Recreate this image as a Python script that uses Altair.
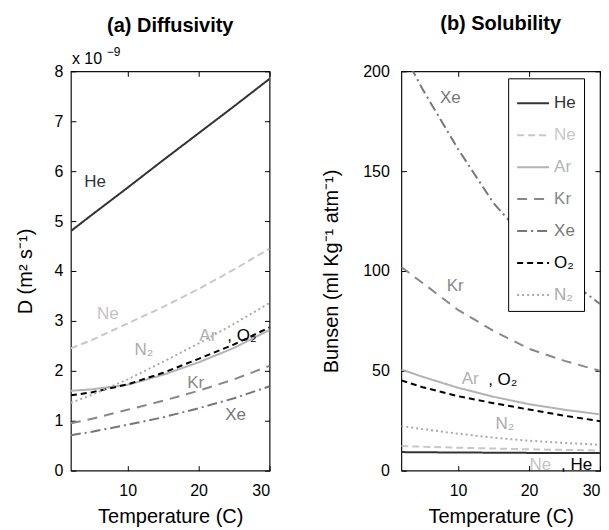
import altair as alt
import pandas as pd

# ---------------- data ----------------
temps = [2, 5, 10, 15, 20, 25, 30]
gases = ["He", "Ne", "Ar", "Kr", "Xe", "O₂", "N₂"]

# Diffusivity (x 1e-9 m^2 s^-1)
diff_he = [4.80, 5.13, 5.67, 6.22, 6.76, 7.30, 7.85]
diff_ne = [2.45, 2.62, 2.95, 3.28, 3.64, 4.03, 4.45]
diff_ar = [1.60, 1.63, 1.72, 1.92, 2.17, 2.46, 2.82]
diff_kr = [0.95, 1.04, 1.22, 1.40, 1.60, 1.83, 2.10]
diff_xe = [0.71, 0.78, 0.92, 1.07, 1.25, 1.45, 1.69]
diff_o2 = [1.51, 1.57, 1.73, 1.96, 2.24, 2.53, 2.87]
diff_n2 = [1.36, 1.52, 1.83, 2.18, 2.55, 2.94, 3.36]

# Bunsen solubility (ml kg^-1 atm^-1)
sol_he = [9.3, 9.2, 9.1, 9.0, 8.9, 8.85, 8.8]
sol_ne = [12.3, 12.0, 11.5, 11.1, 10.7, 10.4, 10.1]
sol_ar = [50.7, 47.0, 41.5, 37.0, 33.3, 30.5, 28.2]
sol_kr = [102, 94, 80.5, 70, 61, 55, 50]
sol_xe = [211, 191, 161, 134, 114, 97, 83.5]
sol_o2 = [45.2, 41.8, 37.3, 33.8, 30.6, 27.5, 24.8]
sol_n2 = [22.3, 20.8, 18.5, 16.5, 15.0, 13.9, 13.0]

# in-plot labels
left_lab_text = ["He", "Ne", "N₂", "Ar", ", O₂", "Kr", "Xe"]
left_lab_x = [5.4, 7.2, 12.3, 21.3, 26.1, 19.6, 25.2]
left_lab_y = [5.79, 3.14, 2.41, 2.69, 2.69, 1.76, 1.11]
left_lab_col = ["#333333", "#c4c4c4", "#ababab", "#b0b0b0", "#000000", "#8a8a8a", "#777777"]

right_lab_text = ["Xe", "Kr", "Ar", ", O₂", "N₂", "Ne", ", He"]
right_lab_x = [8.9, 9.6, 11.7, 16.3, 16.6, 21.6, 26.7]
right_lab_y = [186.5, 92.7, 45.7, 45.2, 23.5, 2.7, 2.7]
right_lab_col = ["#777777", "#8a8a8a", "#b0b0b0", "#000000", "#ababab", "#c4c4c4", "#000000"]

line_colors = ["#333333", "#c8c8c8", "#b3b3b3", "#888888", "#777777", "#000000", "#aaaaaa"]
line_dashes = [[1, 0], [7, 4], [1, 0], [10, 7], [10, 4, 2, 4], [6, 4], [2, 3]]

# ---------------- tables ----------------
def long_table(series):
    rows = []
    for g, vals in zip(gases, series):
        for t, v in zip(temps, vals):
            rows.append({"T": t, "v": v, "gas": g})
    return pd.DataFrame(rows)

df_d = long_table([diff_he, diff_ne, diff_ar, diff_kr, diff_xe, diff_o2, diff_n2])
df_s = long_table([sol_he, sol_ne, sol_ar, sol_kr, sol_xe, sol_o2, sol_n2])
lab_l = pd.DataFrame({"t": left_lab_text, "x": left_lab_x, "y": left_lab_y, "c": left_lab_col})
lab_r = pd.DataFrame({"t": right_lab_text, "x": right_lab_x, "y": right_lab_y, "c": right_lab_col})
mult_base = pd.DataFrame({"t": ["x 10"], "x": [2], "y": [8]})
mult_exp = pd.DataFrame({"t": ["−9"], "x": [2], "y": [8]})

W, H = 199, 400
FONT = "Liberation Sans"

color_scale = alt.Scale(domain=gases, range=line_colors)
dash_scale = alt.Scale(domain=gases, range=line_dashes)

label_expr = " : ".join(
    f"datum.label == '{g}' ? '{c}'" for g, c in zip(gases, line_colors)
) + " : 'black'"


def x_axis():
    return alt.Axis(values=[10, 20, 30], title="Temperature (C)", grid=True,
                    gridDash=[5, H - 10], gridColor="black", gridOpacity=1,
                    ticks=False, tickSize=0, domain=False, labelFontSize=16,
                    titleFontSize=20, titleFontWeight="normal", labelPadding=12,
                    titlePadding=8, labelColor="black", titleColor="black",
                    labelFont=FONT, titleFont=FONT)


def y_axis(vals, title, pad, tpad):
    return alt.Axis(values=vals, title=title, grid=True, gridDash=[5, W - 10],
                    gridColor="black", gridOpacity=1, ticks=False, tickSize=0,
                    domain=False, labelFontSize=16, titleFontSize=20,
                    titleFontWeight="normal", labelPadding=pad, titlePadding=tpad,
                    labelColor="black", titleColor="black", labelFont=FONT,
                    titleFont=FONT)


xs = alt.Scale(domain=[2, 30], nice=False, zero=False)

# ---------------- left panel ----------------
lines_l = alt.Chart(df_d).mark_line(strokeWidth=2, clip=True).encode(
    x=alt.X("T:Q", scale=xs, axis=x_axis()),
    y=alt.Y("v:Q", scale=alt.Scale(domain=[0, 8], nice=False),
            axis=y_axis(list(range(9)), "D (m² s⁻¹)", 8, 19)),
    color=alt.Color("gas:N", scale=color_scale, legend=None),
    strokeDash=alt.StrokeDash("gas:N", scale=dash_scale, legend=None),
)
text_l = alt.Chart(lab_l).mark_text(font=FONT, fontSize=17, align="center", baseline="middle").encode(
    x="x:Q", y="y:Q", text="t:N", fill=alt.Fill("c:N", scale=None)
)
mult_l = alt.Chart(mult_base).mark_text(font=FONT, fontSize=16, align="left", baseline="alphabetic",
                                        dy=-7, dx=1, color="black").encode(x="x:Q", y="y:Q", text="t:N")
mult_e = alt.Chart(mult_exp).mark_text(font=FONT, fontSize=12, align="left", baseline="alphabetic",
                                       dy=-15, dx=36, color="black").encode(x="x:Q", y="y:Q", text="t:N")
left = alt.layer(lines_l, text_l, mult_l, mult_e).properties(
    width=W, height=H,
    title=alt.TitleParams("(a) Diffusivity", fontSize=20, fontWeight="bold", font=FONT,
                          anchor="middle", offset=10, color="black"),
)

# ---------------- right panel ----------------
leg = alt.Legend(title=None, orient="none", legendX=107, legendY=7, symbolType="stroke",
                 symbolSize=1024, symbolStrokeWidth=2, labelFontSize=17, labelFont=FONT,
                 strokeColor="black", fillColor="white", padding=8, rowPadding=7,
                 labelOffset=4, labelColor=alt.ExprRef(expr=label_expr))

lines_r = alt.Chart(df_s).mark_line(strokeWidth=2, clip=True).encode(
    x=alt.X("T:Q", scale=xs, axis=x_axis()),
    y=alt.Y("v:Q", scale=alt.Scale(domain=[0, 200], nice=False),
            axis=y_axis([0, 50, 100, 150, 200], "Bunsen (ml Kg⁻¹ atm⁻¹)", 12, 21)),
    color=alt.Color("gas:N", scale=color_scale, legend=leg),
    strokeDash=alt.StrokeDash("gas:N", scale=dash_scale, legend=leg),
)
text_r = alt.Chart(lab_r).mark_text(font=FONT, fontSize=17, align="center", baseline="middle").encode(
    x="x:Q", y="y:Q", text="t:N", fill=alt.Fill("c:N", scale=None)
)
right = alt.layer(lines_r, text_r).properties(
    width=W, height=H,
    title=alt.TitleParams("(b) Solubility", fontSize=20, fontWeight="bold", font=FONT,
                          anchor="middle", offset=29, color="black"),
)

chart = alt.hconcat(left, right, spacing=50).resolve_scale(
    color="independent", strokeDash="independent", x="independent", y="independent"
).resolve_legend(color="independent", strokeDash="independent").properties(
    padding={"left": 6, "top": 5, "right": 0, "bottom": 0}
).configure_view(stroke="#111111", strokeWidth=1.2)

chart.save("out.html", embed_options={"renderer": "svg", "actions": False})
